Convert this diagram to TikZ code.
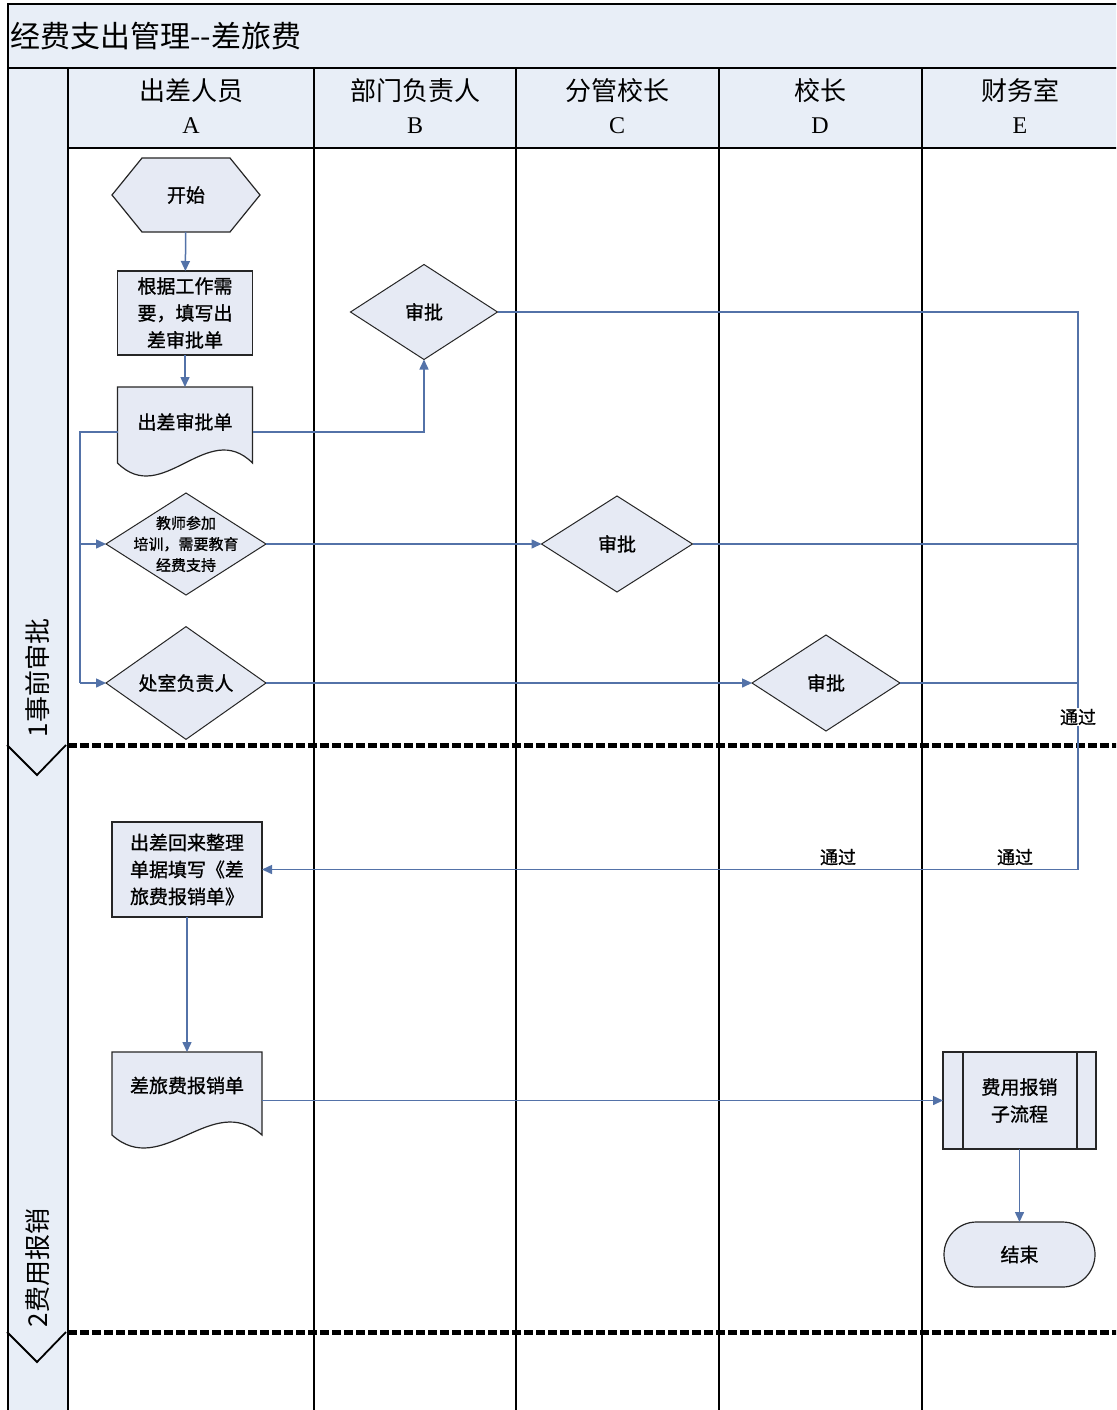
\documentclass[tikz,border=0pt]{standalone}
\usepackage{fontspec}
\newfontfamily\cjk{Noto Sans CJK SC}
\newfontfamily\cjkb[FakeBold=1]{Noto Sans CJK SC}
\newfontfamily\lat{Liberation Serif}
\usetikzlibrary{arrows.meta,shapes.geometric,shapes.misc}
\definecolor{lanefill}{HTML}{E8EEF7}
\definecolor{shpfill}{HTML}{E6EAF4}
\definecolor{conncol}{HTML}{5372A8}
\begin{document}
\begin{tikzpicture}[x=1pt,y=-1pt,
  lane/.style={line width=1.8pt, draw=black},
  sepline/.style={line width=5pt, draw=black, dash pattern=on 9pt off 3pt},
  shp/.style={draw=black!85, line width=1.2pt, fill=shpfill},
  ghost/.style={draw=none, inner sep=0pt, outer sep=0pt},
  boxs/.style={shp, rectangle, inner sep=0pt, outer sep=0pt, txt},
  dia/.style={shape=diamond, draw=black!85, line width=1pt, fill=shpfill, inner sep=0pt, outer sep=0pt, txt},
  txt/.style={font=\cjkb\fontsize{19}{27}\selectfont, align=center, inner sep=0pt},
  smalltxt/.style={font=\cjkb\fontsize{15}{21}\selectfont, align=center, inner sep=0pt},
  hdr/.style={font=\cjk\fontsize{26}{33}\selectfont, align=center, inner sep=0pt},
  phase/.style={font=\cjk\fontsize{26}{26}\selectfont, rotate=90, inner sep=0pt},
  lbl/.style={font=\cjkb\fontsize{18}{20}\selectfont, inner sep=1pt},
  conn/.style={draw=conncol, line width=1.5pt},
  arr/.style={conn, -{Triangle[length=10pt,width=9pt]}}
]
\useasboundingbox (0,0) rectangle (1116,1410);
\clip (0,0) rectangle (1116,1410);
\fill[white] (0,0) rectangle (1116,1410);

% frame
\draw[lane, fill=lanefill] (8,4) rectangle (1125,68);
\node[font=\cjk\fontsize{30}{30}\selectfont, anchor=west, inner sep=0pt] (title) at (10,36) {经费支出管理--差旅费};
\draw[lane, fill=lanefill] (8,68) rectangle (68,1420);
\draw[lane, fill=lanefill] (68,68) rectangle (1125,148);
\foreach \x in {314,516,719,922} \draw[lane] (\x,68) -- (\x,1420);

% headers
\node[hdr] (hA) at (191,106) {出差人员\\{\lat\fontsize{24}{33}\selectfont A}};
\node[hdr] (hB) at (415,106) {部门负责人\\{\lat\fontsize{24}{33}\selectfont B}};
\node[hdr] (hC) at (617,106) {分管校长\\{\lat\fontsize{24}{33}\selectfont C}};
\node[hdr] (hD) at (820,106) {校长\\{\lat\fontsize{24}{33}\selectfont D}};
\node[hdr] (hE) at (1020,106) {财务室\\{\lat\fontsize{24}{33}\selectfont E}};

% phase separators
\draw[sepline] (68,745) -- (1125,745);
\draw[sepline] (68,1332) -- (1125,1332);
\draw[line width=1.8pt] (7,745) -- (37,775) -- (66,745);
\draw[line width=1.8pt] (7,1332) -- (37,1362) -- (66,1332);
\node[phase] (ph1) at (38,678) {1事前审批};
\node[phase] (ph2) at (38,1268) {2费用报销};

% start hexagon
\node[ghost, minimum width=148pt, minimum height=74pt] (start) at (186,195) {};
\draw[shp] (start.west) -- ([xshift=30pt]start.north west) -- ([xshift=-30pt]start.north east) -- (start.east) -- ([xshift=-30pt]start.south east) -- ([xshift=30pt]start.south west) -- cycle;
\node[txt] (startt) at (start) {开始};

\node[boxs, minimum width=135pt, minimum height=84pt] (box1) at (185,313) {根据工作需\\要，填写出\\差审批单};

% document 1
\node[ghost, minimum width=135pt, minimum height=76pt] (doc1) at (185,425) {};
\draw[shp] (doc1.north west) -- (doc1.north east) -- (doc1.south east) .. controls ([xshift=-45pt,yshift=45pt]doc1.south east) and ([xshift=45pt,yshift=-45pt]doc1.south west) .. (doc1.south west) -- cycle;
\node[txt] (doc1t) at ([yshift=3pt]doc1.center) {出差审批单};

\node[dia, minimum width=147pt, minimum height=95pt] (dB) at (424,312) {审批};
\node[dia, minimum width=160pt, minimum height=102pt] (q1) at (186,544) {};
\node[smalltxt] (q1t) at (q1) {教师参加\\培训，需要教育\\经费支持};
\node[dia, minimum width=151pt, minimum height=96pt] (dC) at (617,544) {审批};
\node[dia, minimum width=160pt, minimum height=103pt] (q2) at (186,683) {处室负责人};
\node[dia, minimum width=148pt, minimum height=96pt] (dD) at (826,683) {审批};

\node[boxs, minimum width=150pt, minimum height=95pt] (box2) at (187,869.5) {出差回来整理\\单据填写《差\\旅费报销单》};

% document 2
\node[ghost, minimum width=150pt, minimum height=83pt] (doc2) at (187,1093.5) {};
\draw[shp] (doc2.north west) -- (doc2.north east) -- (doc2.south east) .. controls ([xshift=-50pt,yshift=45pt]doc2.south east) and ([xshift=50pt,yshift=-45pt]doc2.south west) .. (doc2.south west) -- cycle;
\node[txt] (doc2t) at ([yshift=8pt]doc2.center) {差旅费报销单};

\node[boxs, minimum width=153pt, minimum height=97pt] (sub) at (1019.5,1100.5) {费用报销\\子流程};
\draw[line width=1.2pt, black!85] ([xshift=20pt]sub.north west) -- ([xshift=20pt]sub.south west);
\draw[line width=1.2pt, black!85] ([xshift=-19pt]sub.north east) -- ([xshift=-19pt]sub.south east);

\node[shp, rounded rectangle, minimum width=151pt, minimum height=65pt, inner sep=0pt, outer sep=0pt, txt] (end) at (1019.5,1254.5) {结束};

% connectors
\draw[arr] (start) -- (box1);
\draw[arr] (box1) -- (doc1);
\draw[arr] ([yshift=-7pt]doc1.east) -| (dB.south);
\coordinate (tr1) at (80,544);
\coordinate (tr2) at (80,683);
\draw[conn] ([yshift=-7pt]doc1.west) -| (tr2);
\draw[arr] (tr1) -- (q1.west);
\draw[arr] (tr2) -- (q2.west);
\draw[arr] (q1.east) -- (dC.west);
\draw[arr] (q2.east) -- (dD.west);
\coordinate (rc) at (1078,869.5);
\draw[conn] (dB.east) -| (rc);
\draw[conn] (dC.east) -- (dC.east -| rc);
\draw[conn] (dD.east) -- (dD.east -| rc);
\draw[arr] (rc) -- (box2.east);
\draw[arr] (box2) -- (doc2);
\draw[arr] ([yshift=-7pt]doc2.east) -- (sub.west);
\draw[arr] (sub) -- (end);

\node[lbl, fill=white] (L1) at (1078,717) {通过};
\node[lbl] (L2) at (1015,857) {通过};
\node[lbl] (L3) at (838,857) {通过};
\end{tikzpicture}
\end{document}
